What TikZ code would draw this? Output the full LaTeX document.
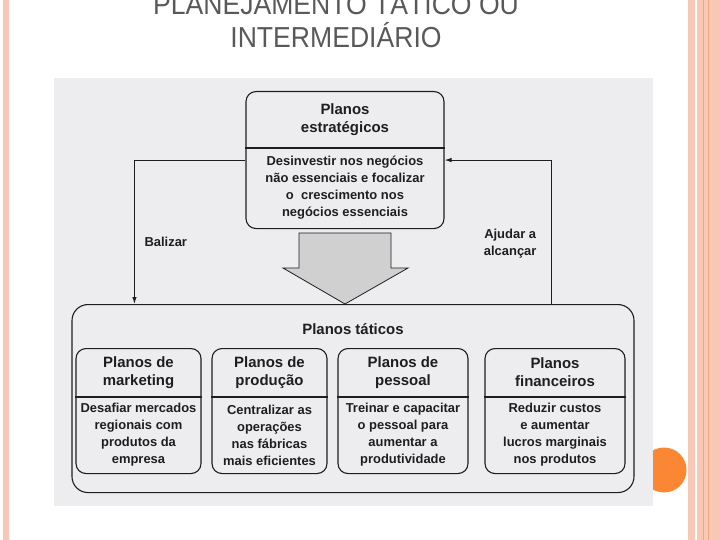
\documentclass[tikz,border=0pt]{standalone}
\usepackage{fontspec}
\setmainfont{Liberation Sans}
\newfontfamily\titlefont[FakeStretch=0.92]{Liberation Sans}
\usetikzlibrary{calc, positioning}
\usetikzlibrary{arrows.meta}
\definecolor{ink}{RGB}{30,30,30}
\definecolor{scan}{RGB}{237,237,240}
\definecolor{arrowgray}{RGB}{208,208,208}
\definecolor{rosebar}{RGB}{249,200,180}
\definecolor{roseline}{RGB}{240,165,135}
\definecolor{dot}{RGB}{251,134,52}
\definecolor{titlegray}{RGB}{89,89,89}
\def\subhead{49bp}
\def\subbody{76bp}
\newcommand\planheadfont{\bfseries\fontsize{15}{18}\selectfont}
\newcommand\planbodyfont{\bfseries\fontsize{13}{17}\selectfont}
\tikzset{
    planborder/.style = {
        draw=ink, line width=1.1bp, rounded corners=10bp, inner sep=0pt
    },
    headtext/.style = {font=\planheadfont, align=center, text=ink},
    bodytext/.style = {font=\planbodyfont, align=center, text=ink},
    titletext/.style = {font=\titlefont\fontsize{29}{33}\selectfont, text=titlegray, anchor=base},
    pics/Plan/.style n args = {5}{code={
        \node [planborder, minimum width=#1, minimum height=#2+#3, anchor=north] (-edge) at (0,0) {};
        \draw [draw=ink, line width=1.1bp] ([yshift=-#2] -edge.north west) -- ([yshift=-#2] -edge.north east);
        \node [headtext] (-head) at ([yshift=-#2/2] -edge.north) {#4};
        \node [bodytext] (-body) at ([yshift=-#2-#3/2] -edge.north) {#5};
    }},
}

\begin{document}
\begin{tikzpicture}[x=1bp, y=-1bp, >={Latex[length=7bp, width=4.5bp]}]
        \useasboundingbox (0,0) rectangle (720,540);
        % Slide frame
        \fill[rosebar] (3,0) rectangle (9,540);
        \fill[rosebar] (688,0) rectangle (695,540);
        \fill[rosebar] (697,0) rectangle (720,540);
        \draw[roseline, line width=1bp] (703,0) -- (703,540);
        \draw[roseline, line width=1bp] (708,0) -- (708,540);
        \fill[dot] (664,470) circle (22.5);

        % Title
        \node[titletext] (title1) at (336,15) {PLANEJAMENTO TÁTICO OU};
        \node[titletext] (title2) at (336,48) {INTERMEDIÁRIO};

        % Scanned page
        \fill[scan] (54,78) rectangle (653,506);

        % Place the blocks
        \pic (strat) at (345,91) {Plan={198bp}{57bp}{80bp}{Planos\\estratégicos}{Desinvestir nos negócios\\não essenciais e focalizar\\o\ \ crescimento nos\\negócios essenciais}};
        \node[planborder, rounded corners=16bp, minimum width=562bp, minimum height=188bp, anchor=north] (tact) at (353,304) {};
        \node[headtext] (tacttitle) at ([yshift=-25bp] tact.north) {Planos táticos};
        \foreach \name/\x/\w/\head/\body in {
            mk/138.5/125/{Planos de\\marketing}/{Desafiar mercados\\regionais com\\produtos da\\empresa},
            prod/269.5/115/{Planos de\\produção}/{Centralizar as\\operações\\nas fábricas\\mais eficientes},
            pess/403/130/{Planos de\\pessoal}/{Treinar e capacitar\\o pessoal para\\aumentar a\\produtividade},
            fin/555/140/{Planos\\financeiros}/{Reduzir custos\\e aumentar\\lucros marginais\\nos produtos}}{
            \pic (\name) at (\x,348) {Plan={\w bp}{\subhead}{\subbody}{\head}{\body}};
        }

        % Big arrow
        \coordinate (tip) at (strat-edge.south |- tact.north);
        \draw[draw=ink, fill=arrowgray, line width=0.8bp] (tip) -- ++(-62,-36) -- ++(16,0) -- ++(0,-35) -- ++(92,0) -- ++(0,35) -- ++(17,0) -- cycle;

        % Draw connections
        \begin{scope}[draw=ink, line width=1bp]
            \draw[->] (strat-edge.west) -| ([xshift=63bp] tact.north west);
            \draw[->] ([xshift=-83bp] tact.north east) |- (strat-edge.east);
        \end{scope}
        \node[bodytext, anchor=west] (baliz) at (141,242) {Balizar};
        \node[bodytext, anchor=east] (ajudar) at (540,244) {Ajudar a\\alcançar};
    \end{tikzpicture}
\end{document}
